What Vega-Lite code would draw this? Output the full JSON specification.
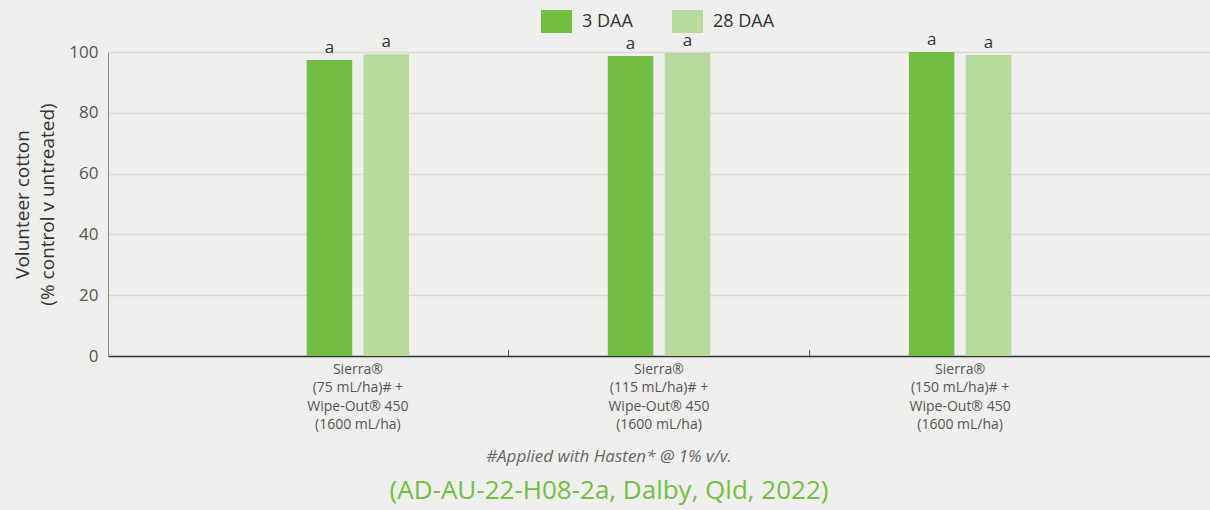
{
  "$schema": "https://vega.github.io/schema/vega-lite/v6.json",
  "width": 1102,
  "height": 304,
  "autosize": {"type": "none"},
  "padding": {"left": 108, "top": 52, "right": 0, "bottom": 154},
  "background": "#efefed",
  "config": {"view": {"stroke": null}, "font": "Open Sans"},
  "data": {
    "values": [
      {"treatment": "Sierra®|(75 mL/ha)# +|Wipe-Out® 450|(1600 mL/ha)", "timing": "3 DAA", "value": 97.4, "sig": "a"},
      {"treatment": "Sierra®|(75 mL/ha)# +|Wipe-Out® 450|(1600 mL/ha)", "timing": "28 DAA", "value": 99.3, "sig": "a"},
      {"treatment": "Sierra®|(115 mL/ha)# +|Wipe-Out® 450|(1600 mL/ha)", "timing": "3 DAA", "value": 98.7, "sig": "a"},
      {"treatment": "Sierra®|(115 mL/ha)# +|Wipe-Out® 450|(1600 mL/ha)", "timing": "28 DAA", "value": 99.7, "sig": "a"},
      {"treatment": "Sierra®|(150 mL/ha)# +|Wipe-Out® 450|(1600 mL/ha)", "timing": "3 DAA", "value": 100.0, "sig": "a"},
      {"treatment": "Sierra®|(150 mL/ha)# +|Wipe-Out® 450|(1600 mL/ha)", "timing": "28 DAA", "value": 99.0, "sig": "a"}
    ]
  },
  "title": {
    "text": "#Applied with Hasten* @ 1% v/v.",
    "subtitle": "(AD-AU-22-H08-2a, Dalby, Qld, 2022)",
    "orient": "bottom",
    "anchor": "middle",
    "dx": -50,
    "offset": 17,
    "font": "Open Sans",
    "fontSize": 17,
    "fontStyle": "italic",
    "fontWeight": "normal",
    "color": "#666666",
    "subtitleFont": "Open Sans",
    "subtitleFontSize": 26,
    "subtitleColor": "#72bf44",
    "subtitlePadding": 12
  },
  "encoding": {
    "x": {
      "field": "treatment",
      "type": "nominal",
      "sort": null,
      "scale": {"paddingInner": 0.66, "paddingOuter": 0.66},
      "axis": {
        "title": null,
        "labelAngle": 0,
        "labelExpr": "split(datum.label, '|')",
        "labelFontSize": 14,
        "labelLineHeight": 18.5,
        "labelColor": "#555555",
        "labelPadding": 6,
        "domainColor": "#333333",
        "domainWidth": 1.5,
        "ticks": false
      }
    },
    "y": {
      "field": "value",
      "type": "quantitative",
      "scale": {"domain": [0, 100]},
      "axis": {
        "title": ["Volunteer cotton", "(% control v untreated)"],
        "titleFontSize": 19,
        "titleFontWeight": "normal",
        "titleColor": "#333333",
        "titleLineHeight": 25,
        "titlePadding": 11,
        "values": [0, 20, 40, 60, 80, 100],
        "labelFontSize": 17,
        "labelColor": "#555555",
        "labelPadding": 10,
        "ticks": false,
        "domainColor": "#888888",
        "gridColor": "#d9d9d9",
        "gridWidth": 1.5
      }
    }
  },
  "layer": [
    {
      "mark": {"type": "bar"},
      "encoding": {
        "xOffset": {"field": "timing", "type": "nominal", "sort": ["3 DAA", "28 DAA"], "scale": {"paddingInner": 0.2}},
        "color": {
          "field": "timing",
          "type": "nominal",
          "scale": {"domain": ["3 DAA", "28 DAA"], "range": ["#72bf44", "#b7db9c"]},
          "legend": {
            "orient": "none",
            "legendX": 437,
            "legendY": -42,
            "direction": "horizontal",
            "title": null,
            "symbolType": "M-1.35,-1L1.35,-1L1.35,1L-1.35,1Z",
            "symbolSize": 529,
            "symbolStrokeWidth": 0,
            "symbolOpacity": 1,
            "labelFontSize": 18,
            "labelColor": "#333333",
            "labelOffset": 14,
            "columnPadding": 38
          }
        }
      }
    },
    {
      "mark": {"type": "text", "baseline": "bottom", "dy": -3, "fontSize": 17, "color": "#333333"},
      "encoding": {
        "xOffset": {"field": "timing", "type": "nominal", "sort": ["3 DAA", "28 DAA"], "scale": {"paddingInner": 0.2}},
        "text": {"field": "sig", "type": "nominal"}
      }
    },
    {
      "transform": [
        {"filter": "datum.timing == '3 DAA' && indexof(datum.treatment, '(75 mL') < 0"}
      ],
      "mark": {"type": "rule", "color": "#555555", "strokeWidth": 1},
      "encoding": {
        "x": {"field": "treatment", "type": "nominal", "sort": null, "bandPosition": -0.97},
        "y": {"datum": 0},
        "y2": {"datum": 2}
      }
    }
  ]
}
